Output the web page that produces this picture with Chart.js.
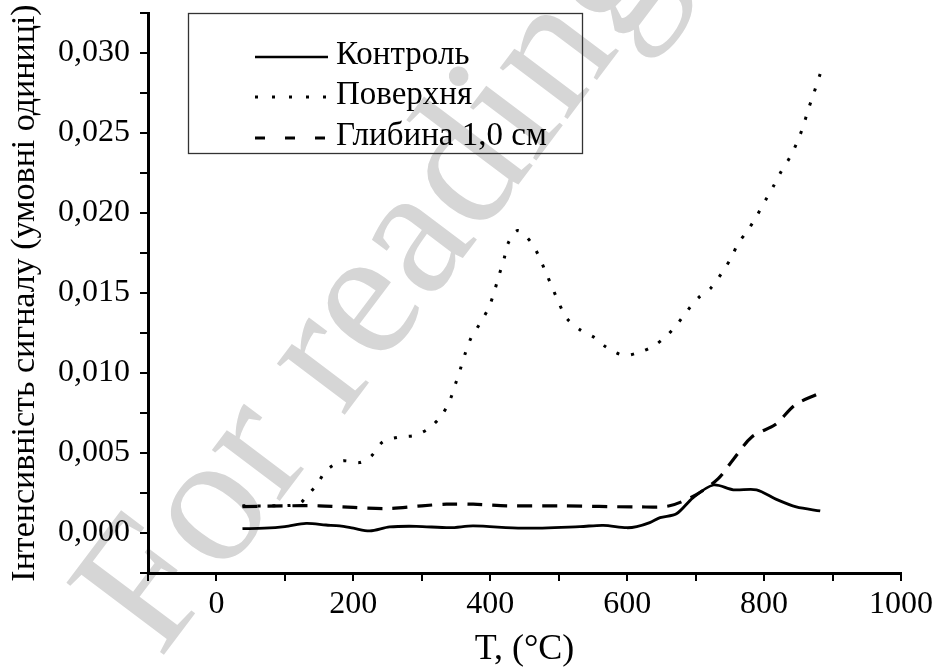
<!DOCTYPE html>
<html>
<head>
<meta charset="utf-8">
<script src="https://cdn.jsdelivr.net/npm/chart.js@4/dist/chart.umd.min.js"></script>
<style>
  html, body { margin: 0; padding: 0; background: #fff; }
  #wrap { width: 933px; height: 668px; }
</style>
</head>
<body>
<div id="wrap"><canvas id="chart" width="933" height="668"></canvas></div>
<script>
// Temperature (°C) and signal values
const controlT = [38, 70, 100, 131, 160, 180, 200, 224, 253, 292, 341, 375, 447, 531, 565, 599, 614, 633, 648, 672, 696, 726, 755, 789, 818, 847, 882];
const controlY = [0.00027, 0.0003, 0.0004, 0.0006, 0.0005, 0.00044, 0.0003, 0.00013, 0.00038, 0.00042, 0.00033, 0.00044, 0.0003, 0.0004, 0.00048, 0.00033, 0.0004, 0.00065, 0.00096, 0.0012, 0.0022, 0.0030, 0.0027, 0.0027, 0.0021, 0.00163, 0.00138];

const surfaceT = [38, 80, 120, 131, 148, 160, 184, 209, 226, 243, 267, 289, 309, 328, 341, 349, 356, 364, 372, 385, 398, 406, 412, 420, 426, 440, 459, 471, 481, 491, 500, 512, 531, 553, 570, 595, 618, 639, 657, 674, 688, 704, 722, 739, 752, 762, 776, 789, 802, 814, 825, 838, 848, 857, 864, 872, 882];
const surfaceY = [0.0017, 0.0017, 0.0018, 0.00226, 0.0031, 0.0039, 0.0045, 0.0044, 0.0048, 0.0057, 0.0060, 0.0061, 0.0065, 0.0073, 0.0083, 0.0093, 0.0102, 0.0113, 0.0122, 0.0131, 0.0141, 0.0151, 0.0160, 0.0171, 0.0181, 0.0189, 0.0182, 0.0173, 0.0163, 0.0153, 0.0144, 0.0134, 0.0127, 0.0122, 0.0116, 0.0111, 0.0113, 0.0117, 0.0123, 0.0131, 0.0139, 0.0147, 0.0153, 0.0163, 0.0172, 0.0181, 0.0189, 0.0198, 0.0208, 0.0217, 0.0226, 0.0235, 0.0244, 0.0254, 0.0264, 0.0274, 0.0287];

const depthT = [38, 100, 150, 200, 253, 300, 336, 375, 424, 500, 618, 662, 701, 733, 755, 782, 817, 845, 879];
const depthY = [0.00165, 0.0017, 0.0017, 0.0016, 0.00153, 0.0017, 0.0018, 0.0018, 0.0017, 0.0017, 0.00163, 0.0017, 0.0024, 0.0034, 0.0046, 0.0060, 0.0068, 0.0080, 0.0087];

const seriesLabels = ['Контроль', 'Поверхня', 'Глибина 1,0 см'];
const xTitle = 'T, (°C)';
const yTitle = 'Інтенсивність сигналу (умовні одиниці)';
const watermark = 'For reading';

const serif = '"Liberation Serif", "Times New Roman", serif';

function toPoints(xs, ys) {
    return xs.map((x, i) => ({ x: x, y: ys[i] }));
}

// gray diagonal watermark, drawn under everything
const watermarkPlugin = {
    id: 'watermark',
    beforeDraw(chart) {
        const ctx = chart.ctx;
        ctx.save();
        ctx.translate(160, 660);
        ctx.rotate(-53 * Math.PI / 180);
        ctx.font = '185px ' + serif;
        ctx.fillStyle = '#d6d6d6';
        ctx.textAlign = 'left';
        ctx.textBaseline = 'alphabetic';
        ctx.fillText(watermark, 0, 0);
        ctx.restore();
    }
};

// boxed legend inside the plot, like the original
const legendBox = {
    id: 'legendBox',
    afterDatasetsDraw(chart) {
        const ctx = chart.ctx;
        const left = chart.chartArea.left + 40;
        const top = chart.chartArea.top;
        ctx.save();
        ctx.strokeStyle = '#333';
        ctx.lineWidth = 1.3;
        ctx.strokeRect(left + 0.5, top + 0.5, 394, 140);

        const rows = [44, 84, 125];
        const dashes = [[], [3, 14], [10, 20]];
        ctx.font = '33px ' + serif;
        ctx.fillStyle = '#000';
        ctx.textBaseline = 'middle';
        chart.data.datasets.forEach((ds, i) => {
            const y = top + rows[i];
            ctx.beginPath();
            ctx.setLineDash(dashes[i]);
            ctx.lineWidth = i === 0 ? 2.5 : 3;
            ctx.strokeStyle = '#000';
            ctx.moveTo(left + 67, y);
            ctx.lineTo(left + 140, y);
            ctx.stroke();
            ctx.setLineDash([]);
            ctx.fillText(ds.label, left + 148, y - 2);
        });
        ctx.restore();
    }
};

const ctx = document.getElementById('chart').getContext('2d');
new Chart(ctx, {
    type: 'line',
    data: {
        datasets: [
            {
                label: seriesLabels[0],
                data: toPoints(controlT, controlY),
                borderColor: '#000',
                borderWidth: 2.8,
                tension: 0.3
            },
            {
                label: seriesLabels[1],
                data: toPoints(surfaceT, surfaceY),
                borderColor: '#000',
                borderWidth: 3,
                borderDash: [3, 12],
                borderCapStyle: 'butt',
                tension: 0.3
            },
            {
                label: seriesLabels[2],
                data: toPoints(depthT, depthY),
                borderColor: '#000',
                borderWidth: 3.2,
                borderDash: [15, 10],
                borderCapStyle: 'butt',
                tension: 0.3
            }
        ]
    },
    options: {
        responsive: false,
        animation: false,
        elements: { point: { radius: 0, hoverRadius: 0 } },
        layout: { padding: { top: 13, right: 32, left: 0, bottom: 0 } },
        plugins: {
            legend: { display: false },
            tooltip: { enabled: false }
        },
        scales: {
            x: {
                type: 'linear',
                min: -100,
                max: 1000,
                afterFit: (scale) => {
                    scale.height = 95;
                    scale.paddingLeft = 0;
                    scale.paddingRight = 0;
                },
                border: { display: true, color: '#000', width: 3 },
                grid: { drawOnChartArea: false, drawTicks: true, tickLength: 8, color: '#000', lineWidth: 2 },
                ticks: {
                    stepSize: 100,
                    color: '#000',
                    padding: 4,
                    maxRotation: 0,
                    autoSkip: false,
                    font: { family: serif, size: 32 },
                    callback: (v) => (v % 200 === 0 ? String(v) : '')
                },
                title: {
                    display: true,
                    text: xTitle,
                    color: '#000',
                    font: { family: serif, size: 36, lineHeight: 1 },
                    padding: { top: 0, bottom: 0 }
                }
            },
            y: {
                type: 'linear',
                min: -0.0025,
                max: 0.0325,
                afterFit: (scale) => {
                    scale.width = 148;
                    scale.paddingTop = 0;
                    scale.paddingBottom = 0;
                },
                border: { display: true, color: '#000', width: 3 },
                grid: { drawOnChartArea: false, drawTicks: true, tickLength: 8, color: '#000', lineWidth: 2 },
                ticks: {
                    stepSize: 0.0025,
                    color: '#000',
                    padding: 10,
                    autoSkip: false,
                    font: { family: serif, size: 32 },
                    callback: (v) => {
                        const k = v / 0.005;
                        if (v < -1e-9 || Math.abs(k - Math.round(k)) > 1e-6) return '';
                        return Math.abs(v).toFixed(3).replace('.', ',');
                    }
                },
                title: {
                    display: true,
                    text: yTitle,
                    color: '#000',
                    font: { family: serif, size: 34 },
                    padding: { top: 5, bottom: 0 }
                }
            }
        }
    },
    plugins: [watermarkPlugin, legendBox]
});
</script>
</body>
</html>
